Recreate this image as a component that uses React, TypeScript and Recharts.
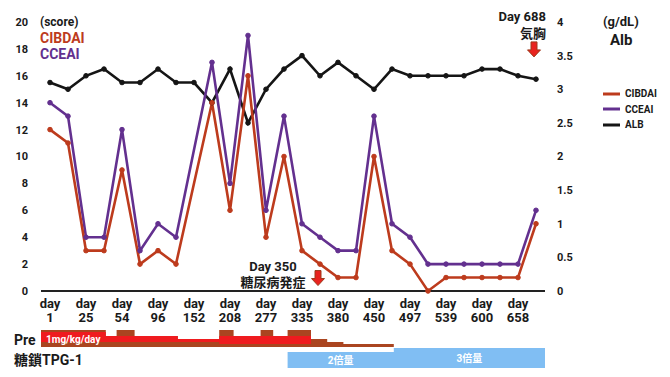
import React from 'react'
import {
  ComposedChart,
  Line,
  Area,
  XAxis,
  YAxis,
  Legend,
  ReferenceDot,
  ReferenceArea,
} from 'recharts'

const FONT = "Roboto, 'Noto Sans CJK JP', sans-serif"
const RED = '#bd3b1d'
const PURPLE = '#63308f'
const BLACK = '#151515'

// x labels (every other point has a label)
const dayLabels = ['1', '25', '54', '96', '152', '208', '277', '335', '380', '450', '497', '539', '600', '658']
const cibdai = [12, 11, 3, 3, 9, 2, 3, 2, null, 14, 6, 16, 4, 10, 3, 2, 1, 1, 10, 3, 2, 0, 1, 1, 1, 1, 1, 5]
const cceai = [14, 13, 4, 4, 12, 3, 5, 4, null, 17, 8, 19, 6, 13, 5, 4, 3, 3, 13, 5, 4, 2, 2, 2, 2, 2, 2, 6]
const alb = [3.1, 3.0, 3.2, 3.3, 3.1, 3.1, 3.3, 3.1, 3.1, 2.8, 3.3, 2.5, 3.0, 3.3, 3.5, 3.2, 3.4, 3.2, 3.0, 3.3, 3.2, 3.2, 3.2, 3.2, 3.3, 3.3, 3.2, 3.15]

const scoreTicks = [0, 2, 4, 6, 8, 10, 12, 14, 16, 18, 20]
const albTicks = [0, 0.5, 1, 1.5, 2, 2.5, 3, 3.5, 4]

// prednisolone (mg/kg/day), step profile
const preX = [-0.5, 3.1, 3.7, 4.7, 7.1, 9.4, 10.2, 11.7, 12.4, 13.2, 14.5, 15.4, 16.3, 19.1]
const preTotal = [1.0, 0.65, 1.0, 0.65, 0.47, 1.0, 0.65, 1.0, 0.65, 1.0, 0.47, 0.3, 0.18, 0]
const preBaseHi = [0.88, 0.65, 0.65, 0.65, 0.47, 0.65, 0.65, 0.65, 0.65, 0.65, 0.18, null, null, null]
const preBaseLo = [0.3, 0.3, 0.3, 0.3, 0.3, 0.18, 0.18, 0.18, 0.18, 0.18, 0.18, null, null, null]

// TPG-1 dose periods
const tpgLabels = ['2倍量', '3倍量']
const tpgFrom = [13.2, 19.1]
const tpgTo = [19.1, 27.5]
const tpgLevel = [0.8, 1]

const series = [
  { key: 'cibdai', name: 'CIBDAI', color: RED },
  { key: 'cceai', name: 'CCEAI', color: PURPLE },
  { key: 'alb', name: 'ALB', color: BLACK },
]

const rows = alb.map((a, i) => ({ i, cibdai: cibdai[i], cceai: cceai[i], alb: a }))
const xTicks = dayLabels.map((_, k) => k * 2)

const preRows = preX.map((x, k) => ({
  x,
  total: preTotal[k],
  base: preBaseHi[k] == null ? null : [preBaseLo[k], preBaseHi[k]],
}))

const tpgRows = [
  ...tpgFrom.map((x, k) => ({ x, tpg: tpgLevel[k] })),
  { x: tpgTo[tpgTo.length - 1], tpg: tpgLevel[tpgLevel.length - 1] },
]

const DayTick = (props: any) => {
  const { x, y, payload } = props
  const label = dayLabels[payload.value / 2]
  return (
    <g fontFamily={FONT} fontWeight={700} fontSize={13} fill="#1a1a1a">
      <text x={x} y={y + 17} textAnchor="middle">day</text>
      <text x={x} y={y + 31} textAnchor="middle">{label}</text>
    </g>
  )
}

const arrowShape = (lines: string[], tx: number, ty: number[], anchor: 'end' | 'middle', adx = 0) =>
  (p: any) => {
    const cx = p.cx + adx
    const cy = p.cy
    const d = `M${cx - 3},${cy - 7} L${cx + 3},${cy - 7} L${cx + 3},${cy + 1} L${cx + 6.5},${cy + 1} L${cx},${cy + 8} L${cx - 6.5},${cy + 1} L${cx - 3},${cy + 1} Z`
    return (
      <g>
        <path d={d} fill="#e8231f" stroke="#9c3a1b" strokeWidth={1} />
        {lines.map((t, k) => (
          <text key={k} x={p.cx + tx} y={cy + ty[k]} textAnchor={anchor} fontFamily={FONT}
            fontWeight={700} fontSize={13} fill="#1a1a1a">{t}</text>
        ))}
      </g>
    )
  }

const LegendBox = (props: any) => {
  const payload = [...(props.payload || [])].sort(
    (a: any, b: any) => series.findIndex(s => s.name === a.value) - series.findIndex(s => s.name === b.value))
  return (
    <div style={{ whiteSpace: 'nowrap', width: 80 }}>
      {payload.map((e: any) => (
        <div key={e.value} style={{ display: 'flex', alignItems: 'center', height: 15.5 }}>
          <svg width={22} height={4} style={{ display: 'block', flex: 'none' }}>
            <line x1={0} x2={17} y1={2} y2={2} stroke={e.color} strokeWidth={3} />
          </svg>
          <span style={{ fontSize: 10, fontWeight: 700, color: '#1a1a1a', fontFamily: FONT }}>{e.value}</span>
        </div>
      ))}
    </div>
  )
}

const txt = (s: React.CSSProperties) => ({
  position: 'absolute' as const, lineHeight: '16px', fontFamily: FONT, fontWeight: 700, whiteSpace: 'nowrap' as const, ...s,
})

export default function App() {
  return (
    <div style={{ position: 'absolute', left: 0, top: 0, width: 670, height: 377, background: '#fff', fontFamily: FONT }}>
      <div style={{ position: 'absolute', left: 0, top: 0 }}>
        <ComposedChart width={670} height={325} data={rows} margin={{ top: 22, right: 0, bottom: 0, left: 0 }}>
          <XAxis dataKey="i" type="number" domain={[-0.5, 27.5]} ticks={xTicks} interval={0} height={34}
            tick={<DayTick />} tickLine={false} tickSize={0} tickMargin={0} axisLine={{ stroke: '#222', strokeWidth: 2 }} />
          <YAxis yAxisId="score" domain={[0, 20]} ticks={scoreTicks} width={41} axisLine={false} tickLine={false}
            tickSize={0} tickMargin={13} interval={0}
            tick={{ fontSize: 11, fontWeight: 700, fill: '#1a1a1a', fontFamily: FONT }} />
          <YAxis yAxisId="alb" orientation="right" domain={[0, 4]} ticks={albTicks} width={125} axisLine={false}
            tickLine={false} tickSize={0} tickMargin={12} interval={0}
            tick={{ fontSize: 11, fontWeight: 700, fill: '#1a1a1a', fontFamily: FONT }} />
          <Legend content={<LegendBox />}
            wrapperStyle={{ position: 'absolute', left: 603, top: 86, width: 0, height: 0, whiteSpace: 'nowrap' }} />
          <Line yAxisId="alb" dataKey="alb" name="ALB" stroke={BLACK} strokeWidth={2.6}
            dot={{ r: 2.3, fill: BLACK, stroke: BLACK, strokeWidth: 1 }} isAnimationActive={false} />
          <Line yAxisId="score" dataKey="cceai" name="CCEAI" stroke={PURPLE} strokeWidth={2.6} connectNulls
            dot={{ r: 2.3, fill: PURPLE, stroke: PURPLE, strokeWidth: 1 }} isAnimationActive={false} />
          <Line yAxisId="score" dataKey="cibdai" name="CIBDAI" stroke={RED} strokeWidth={2.6} connectNulls
            dot={{ r: 2.3, fill: RED, stroke: RED, strokeWidth: 1 }} isAnimationActive={false} />
          <ReferenceDot yAxisId="score" x={27} y={18} ifOverflow="visible"
            shape={arrowShape(['Day 688', '気胸'], 10, [-28, -11], 'end', -2)} />
          <ReferenceDot yAxisId="score" x={15} y={1} ifOverflow="visible"
            shape={arrowShape(['Day 350', '糖尿病発症'], -47, [-7, 9], 'middle', -2)} />
        </ComposedChart>
      </div>

      <div style={txt({ left: 40, top: 14, fontSize: 12, color: '#1a1a1a' })}>(score)</div>
      <div style={txt({ left: 40, top: 30, fontSize: 14, color: RED })}>CIBDAI</div>
      <div style={txt({ left: 40, top: 46, fontSize: 14, color: PURPLE })}>CCEAI</div>
      <div style={txt({ left: 603, top: 14, fontSize: 13, color: '#1a1a1a' })}>(g/dL)</div>
      <div style={txt({ left: 610, top: 32, fontSize: 15, color: '#1a1a1a' })}>Alb</div>

      <div style={txt({ left: 14, top: 332, fontSize: 14, color: '#1a1a1a' })}>Pre</div>
      <div style={txt({ left: 14, top: 352, fontSize: 14, color: '#1a1a1a' })}>糖鎖TPG-1</div>

      <div style={{ position: 'absolute', left: 0, top: 328 }}>
        <ComposedChart width={670} height={19} data={preRows} margin={{ top: 0, right: 125, bottom: 0, left: 41 }}>
          <XAxis dataKey="x" type="number" domain={[-0.5, 27.5]} hide allowDataOverflow />
          <YAxis domain={[0, 1.12]} hide allowDataOverflow />
          <Area dataKey="total" type="stepAfter" fill="#aa4520" fillOpacity={1} stroke="none" isAnimationActive={false} />
          <Area dataKey="base" type="stepAfter" fill="#ef1b1f" fillOpacity={1} stroke="none" isAnimationActive={false} />
        </ComposedChart>
      </div>
      <div style={txt({ left: 46, top: 332, fontSize: 10, color: '#fff' })}>1mg/kg/day</div>

      <div style={{ position: 'absolute', left: 0, top: 348 }}>
        <ComposedChart width={670} height={20} data={tpgRows} margin={{ top: 0, right: 125, bottom: 0, left: 41 }}>
          <XAxis dataKey="x" type="number" domain={[-0.5, 27.5]} hide allowDataOverflow />
          <YAxis domain={[0, 1]} hide allowDataOverflow />
          <Area dataKey="tpg" type="stepAfter" fill="#80bef3" fillOpacity={1} stroke="none" isAnimationActive={false} />
          {tpgLabels.map((lab, k) => (
            <ReferenceArea key={lab} x1={tpgFrom[k]} x2={tpgTo[k]} y1={0} y2={tpgLevel[k]} fill="none" stroke="none"
              ifOverflow="visible"
              label={{ value: lab, fill: '#fff', fontSize: 10, fontWeight: 700, fontFamily: FONT }} />
          ))}
        </ComposedChart>
      </div>
    </div>
  )
}
